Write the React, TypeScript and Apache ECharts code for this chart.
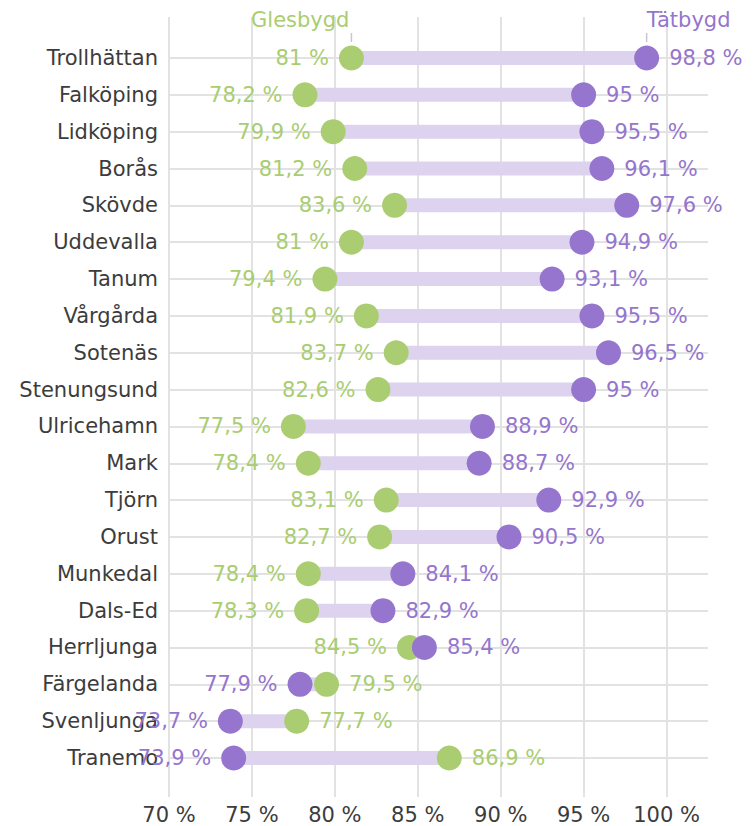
import React, { useEffect, useRef } from "react";
import * as echarts from "echarts";

const categories = [
  "Trollhättan", "Falköping", "Lidköping", "Borås", "Skövde", "Uddevalla", "Tanum",
  "Vårgårda", "Sotenäs", "Stenungsund", "Ulricehamn", "Mark", "Tjörn", "Orust",
  "Munkedal", "Dals-Ed", "Herrljunga", "Färgelanda", "Svenljunga", "Tranemo",
];
const glesbygd = [81, 78.2, 79.9, 81.2, 83.6, 81, 79.4, 81.9, 83.7, 82.6, 77.5, 78.4, 83.1, 82.7, 78.4, 78.3, 84.5, 79.5, 77.7, 86.9];
const tatbygd = [98.8, 95, 95.5, 96.1, 97.6, 94.9, 93.1, 95.5, 96.5, 95, 88.9, 88.7, 92.9, 90.5, 84.1, 82.9, 85.4, 77.9, 73.7, 73.9];
const seriesNames = ["Glesbygd", "Tätbygd"];
const xMin = 70;
const xMax = 102.5;
const xInterval = 5;

const GREEN = "#a9cd70";
const PURPLE = "#9575cd";
const BAND = "#ddd3ef";
const GRID = "#e2e2e2";
const TEXT = "#3c3c3c";
const FONT = "DejaVu Sans";
const FS = 21;

const fmt = (v: number) => String(v).replace(".", ",") + " %";

export default function App() {
  const ref = useRef<HTMLDivElement>(null);
  useEffect(() => {
    if (!ref.current) return;
    const chart = echarts.init(ref.current, undefined, { renderer: "svg" });

    const greenData = glesbygd.map((g, i) => ({
      value: [g, i],
      label: { position: g < tatbygd[i] ? "left" : "right" },
    }));
    const purpleData = tatbygd.map((t, i) => ({
      value: [t, i],
      label: { position: t > glesbygd[i] ? "right" : "left" },
    }));
    const bandData = categories.map((_, i) => [glesbygd[i], tatbygd[i], i]);
    const annoData = [
      { value: [glesbygd[0], 0, glesbygd[0] < tatbygd[0] ? 0 : 1], name: seriesNames[0] },
      { value: [tatbygd[0], 0, tatbygd[0] > glesbygd[0] ? 1 : 0], name: seriesNames[1] },
    ];

    const option: any = {
      animation: false,
      textStyle: { fontFamily: FONT },
      grid: [
        { left: 169, right: 48, top: 17, bottom: 29 },
        { left: 169, right: 48, top: 58, bottom: 68 },
      ],
      xAxis: [
        {
          gridIndex: 0,
          type: "value",
          min: xMin,
          max: xMax,
          interval: xInterval,
          axisLine: { show: false },
          axisTick: { show: false },
          axisLabel: {
            color: TEXT,
            fontSize: FS,
            fontFamily: FONT,
            margin: 7,
            formatter: (v: number) => (v % xInterval === 0 ? v + " %" : ""),
          },
          splitLine: { show: true, showMaxLine: false, lineStyle: { color: GRID, width: 2 } },
        },
        {
          gridIndex: 1,
          type: "value",
          min: xMin,
          max: xMax,
          interval: xInterval,
          show: false,
        },
      ],
      yAxis: [
        { gridIndex: 0, type: "value", show: false },
        {
          gridIndex: 1,
          type: "category",
          data: categories,
          inverse: true,
          boundaryGap: false,
          axisLine: { show: false },
          axisTick: { show: false },
          axisLabel: { color: TEXT, fontSize: FS, fontFamily: FONT, margin: 11, interval: 0 },
          splitLine: { show: true, interval: 0, lineStyle: { color: GRID, width: 2 } },
        },
      ],
      series: [
        {
          type: "custom",
          xAxisIndex: 1,
          yAxisIndex: 1,
          z: 1,
          silent: true,
          data: bandData,
          encode: { x: [0, 1], y: 2 },
          renderItem: (params: any, api: any) => {
            const a = api.coord([api.value(0), api.value(2)]);
            const b = api.coord([api.value(1), api.value(2)]);
            const h = 14;
            return {
              type: "rect",
              shape: { x: Math.min(a[0], b[0]), y: a[1] - h / 2, width: Math.abs(b[0] - a[0]), height: h },
              style: { fill: BAND },
            };
          },
        },
        {
          type: "custom",
          xAxisIndex: 1,
          yAxisIndex: 1,
          z: 1,
          silent: true,
          data: annoData,
          encode: { x: 0, y: 1 },
          renderItem: (params: any, api: any) => {
            const p = api.coord([api.value(0), api.value(1)]);
            const isRightSide = api.value(2) === 1;
            const name = annoData[params.dataIndex].name;
            const color = params.dataIndex === 0 ? GREEN : PURPLE;
            return {
              type: "group",
              children: [
                {
                  type: "line",
                  shape: { x1: p[0], y1: p[1] - 25, x2: p[0], y2: p[1] - 16 },
                  style: { stroke: "#c9c5d4", lineWidth: 1.5 },
                },
                {
                  type: "text",
                  style: {
                    text: name,
                    x: isRightSide ? p[0] : p[0] - 2,
                    y: p[1] - 38,
                    align: isRightSide ? "left" : "right",
                    verticalAlign: "middle",
                    fill: color,
                    fontSize: FS,
                    fontFamily: FONT,
                  },
                },
              ],
            };
          },
        },
        {
          name: seriesNames[0],
          type: "scatter",
          xAxisIndex: 1,
          yAxisIndex: 1,
          z: 2,
          symbolSize: 25,
          itemStyle: { color: GREEN, opacity: 1 },
          label: {
            show: true,
            color: GREEN,
            fontSize: FS,
            fontFamily: FONT,
            distance: 10,
            formatter: (p: any) => fmt(p.value[0]),
          },
          emphasis: { disabled: true },
          data: greenData,
        },
        {
          name: seriesNames[1],
          type: "scatter",
          xAxisIndex: 1,
          yAxisIndex: 1,
          z: 3,
          symbolSize: 25,
          itemStyle: { color: PURPLE, opacity: 1 },
          label: {
            show: true,
            color: PURPLE,
            fontSize: FS,
            fontFamily: FONT,
            distance: 10,
            formatter: (p: any) => fmt(p.value[0]),
          },
          emphasis: { disabled: true },
          data: purpleData,
        },
      ],
    };
    chart.setOption(option);
    return () => chart.dispose();
  }, []);
  return (
    <div
      ref={ref}
      style={{ position: "fixed", left: 0, top: 0, width: 756, height: 826, background: "#fff" }}
    />
  );
}
